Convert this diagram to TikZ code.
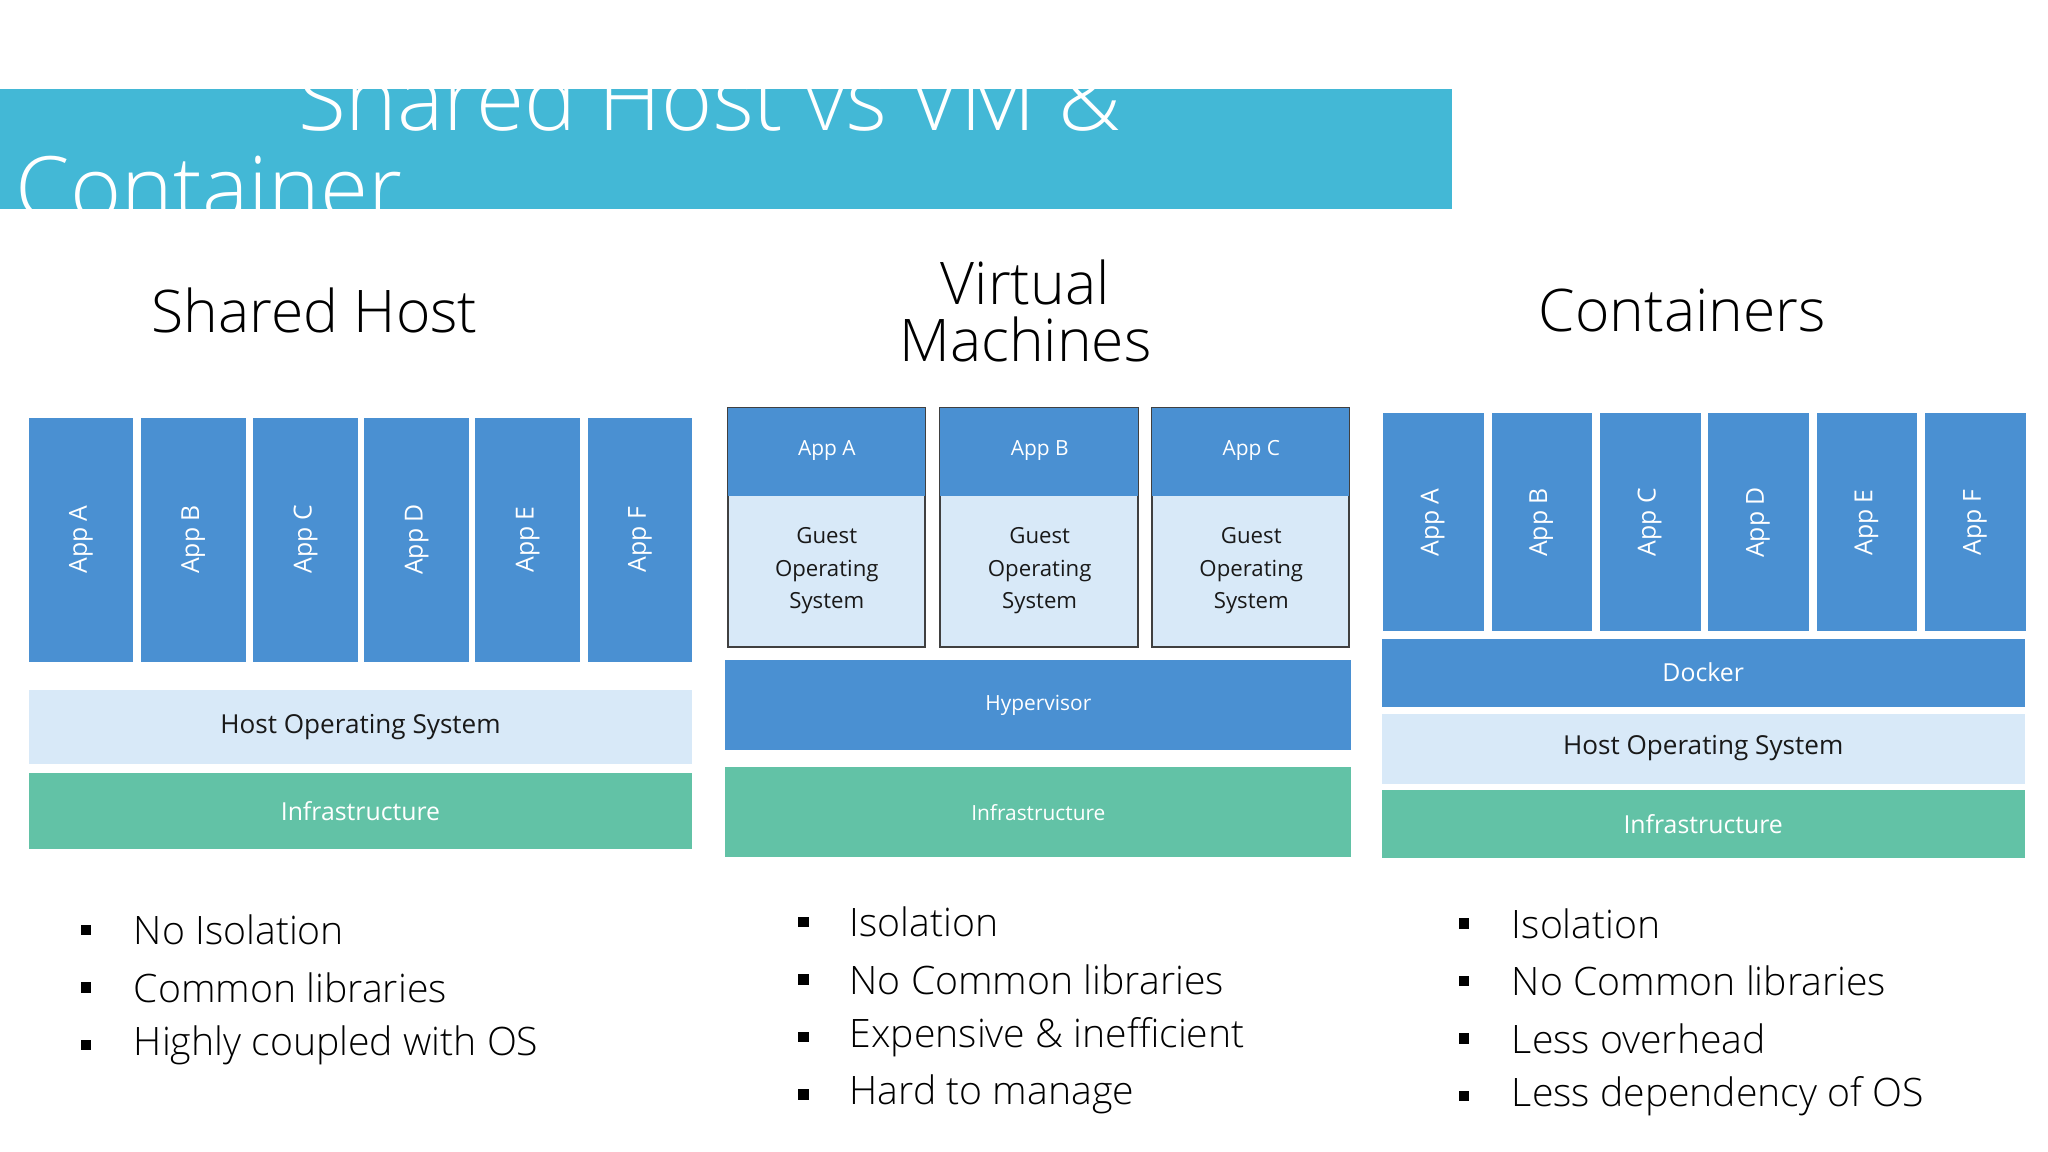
\documentclass[tikz,border=0pt]{standalone}
\usepackage{fontspec}
\setmainfont{Open Sans}
\newfontfamily\lightf{Open Sans Light}
\begin{document}
\definecolor{tb}{HTML}{43B8D6}
\definecolor{ab}{HTML}{4A90D2}
\definecolor{lb}{HTML}{D8E9F8}
\definecolor{gr}{HTML}{62C2A6}
\begin{tikzpicture}[x=1pt,y=-1pt,
 app/.style={fill=ab,draw=none,inner sep=0},
 lab/.style={font=\fontsize{19}{21}\selectfont,text=white},
 dlab/.style={font=\fontsize{20}{24}\selectfont,text=black!90,align=center},
 head/.style={font=\lightf\fontsize{45}{48}\selectfont,align=center},
 bul/.style={font=\lightf\fontsize{30}{34}\selectfont,anchor=west},
 sq/.style={fill=black,minimum size=8pt,inner sep=0}]
\useasboundingbox (0,0) rectangle (1568,882);
\fill[white] (0,0) rectangle (1568,882);
% title bar
\fill[tb] (0,68) rectangle (1112,160);
\begin{scope}
\clip (0,68) rectangle (1112,160);
\node[anchor=base west,text=white,font=\lightf\fontsize{67}{67}\selectfont,inner sep=0] (t1) at (228,100) {Shared Host vs VM \&};
\node[anchor=base west,text=white,font=\lightf\fontsize{67}{67}\selectfont,inner sep=0] (t2) at (12,168) {Container};
\end{scope}
% headings
\node[head] (h1) at (241,238) {Shared Host};
\node[head] (h2) at (785,238) {Virtual\\[-4pt]Machines};
\node[head] (h3) at (1288,238) {Containers};
% shared host
\foreach \x/\n in {22/A,108/B,194/C,279/D,364/E,450/F}{
 \fill[ab] (\x,320) rectangle ++(80,187);
 \node[lab,rotate=90] (s\n) at (\x+40,413) {App \n};}
\fill[lb] (22,528) rectangle (530,585);
\node[dlab] (shos) at (276,557) {Host Operating System};
\fill[gr] (22,592) rectangle (530,650);
\node[lab] (sinf) at (276,621) {Infrastructure};
% VM
\foreach \x/\n in {557/A,720/B,882/C}{
 \fill[lb,draw=black!75,line width=1.5pt] (\x,312) rectangle ++(151,183);
 \fill[ab] (\x,312) rectangle ++(151,68);
 \node[lab,font=\fontsize{16}{18}\selectfont] (v\n) at (\x+76,345) {App \n};
 \node[dlab,font=\fontsize{17}{25}\selectfont] (g\n) at (\x+76,437) {Guest\\Operating\\System};}
\fill[ab] (555,505) rectangle (1034,574);
\node[lab,font=\fontsize{16}{18}\selectfont] (hyp) at (795,540) {Hypervisor};
\fill[gr] (555,587) rectangle (1034,656);
\node[lab,font=\fontsize{16}{18}\selectfont] (vinf) at (795,622) {Infrastructure};
% containers
\foreach \x/\n in {1059/A,1142/B,1225/C,1308/D,1391/E,1474/F}{
 \fill[ab] (\x,316) rectangle ++(77,167);
 \node[lab,rotate=90] (c\n) at (\x+38,400) {App \n};}
\fill[ab] (1058,489) rectangle (1550,541);
\node[lab] (dock) at (1304,515) {Docker};
\fill[lb] (1058,547) rectangle (1550,600);
\node[dlab] (chos) at (1304,573) {Host Operating System};
\fill[gr] (1058,605) rectangle (1550,657);
\node[lab] (cinf) at (1304,631) {Infrastructure};
% bullets
\foreach \y/\t [count=\i] in {712/No Isolation,756/Common libraries,800/Highly coupled with OS}{
 \node[sq] (sb\i) at (66,\y) {}; \node[bul] (st\i) at (99,\y) {\t};}
\foreach \y/\t [count=\i] in {706/Isolation,750/No Common libraries,794/Expensive \& inefficient,838/Hard to manage}{
 \node[sq] (vb\i) at (615,\y) {}; \node[bul] (vt\i) at (647,\y) {\t};}
\foreach \y/\t [count=\i] in {707/Isolation,751/No Common libraries,795/Less overhead,839/Less dependency of OS}{
 \node[sq] (cb\i) at (1121,\y) {}; \node[bul] (ct\i) at (1154,\y) {\t};}
\end{tikzpicture}
\end{document}
